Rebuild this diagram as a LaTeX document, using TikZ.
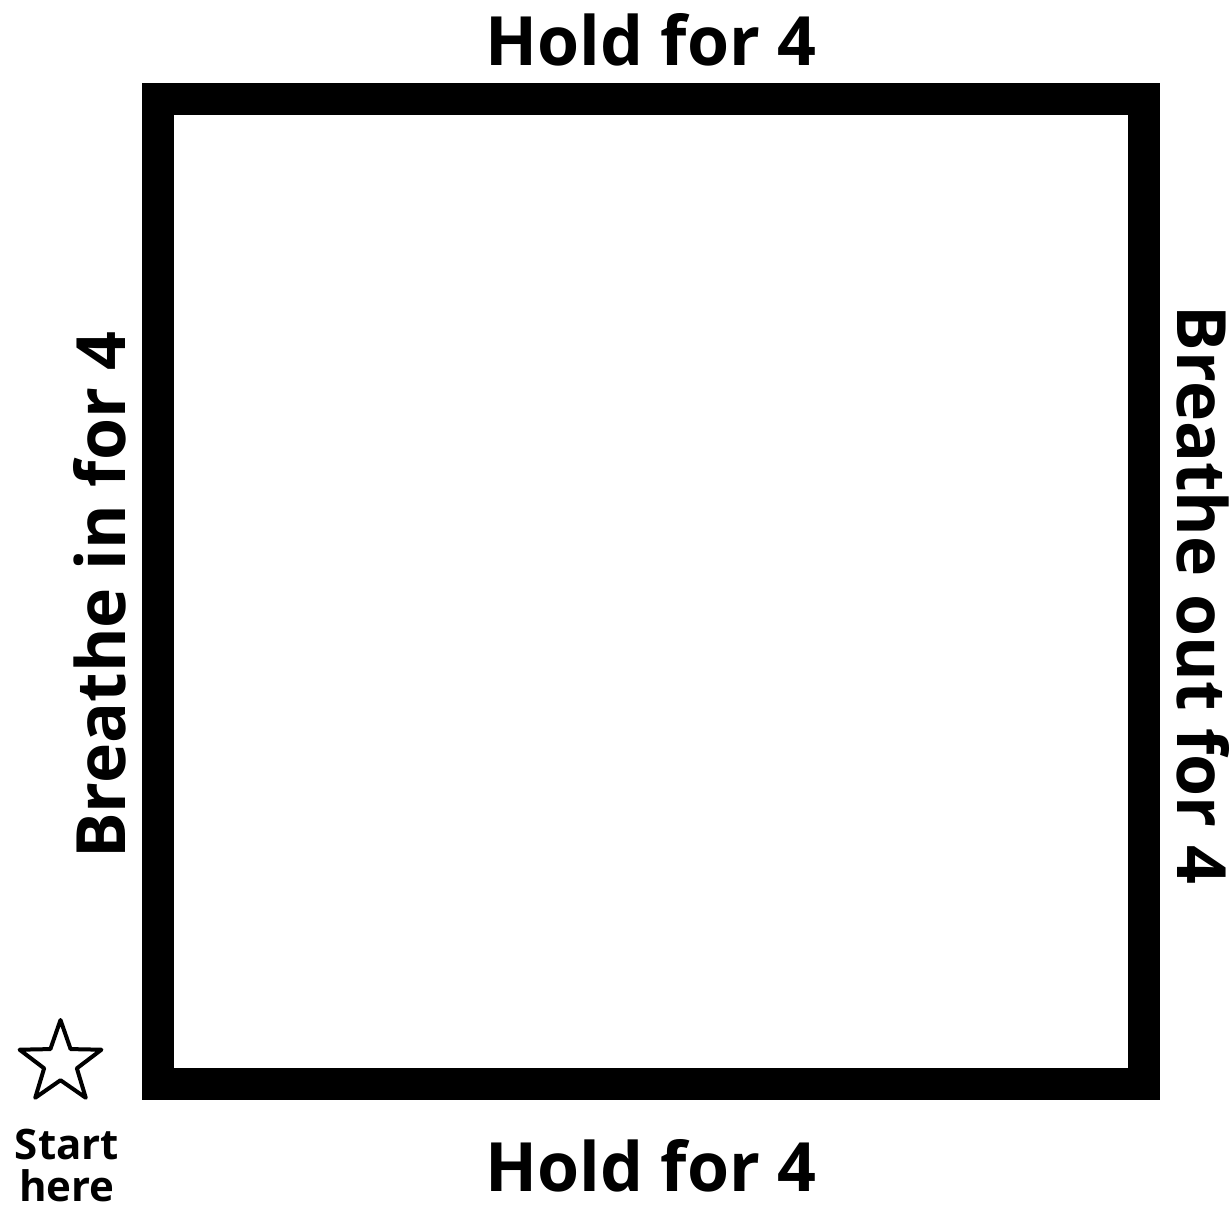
\documentclass[tikz,border=0pt]{standalone}
\usepackage{fontspec}
\usetikzlibrary{shapes.geometric}
\setmainfont{Open Sans}[UprightFont=* Bold]
\begin{document}
\begin{tikzpicture}[x=1pt,y=-1pt,
  lbl/.style={font=\fontsize{68}{80}\selectfont, inner sep=0pt},
  small/.style={font=\fontsize{42}{40}\selectfont, inner sep=0pt, anchor=base},
  startstar/.style={star, star points=5, star point ratio=2.5, draw, line width=4pt, line join=round, minimum size=86pt, inner sep=0pt}]
\useasboundingbox (0,0) rectangle (1231,1214);
\draw[line width=32pt] (158,99) rectangle (1144,1084);
\node[lbl] (top) at (651,40) {Hold for 4};
\node[lbl] (bottom) at (651,1166) {Hold for 4};
\node[lbl, rotate=90] (left) at (100,595) {Breathe in for 4};
\node[lbl, rotate=-90] (right) at (1203,595) {Breathe out for 4};
\node[startstar] (star) at (60.5,1063) {};
\node[small] (start) at (67,1159) {Start};
\node[small] (here) at (67,1201) {here};
\end{tikzpicture}
\end{document}
